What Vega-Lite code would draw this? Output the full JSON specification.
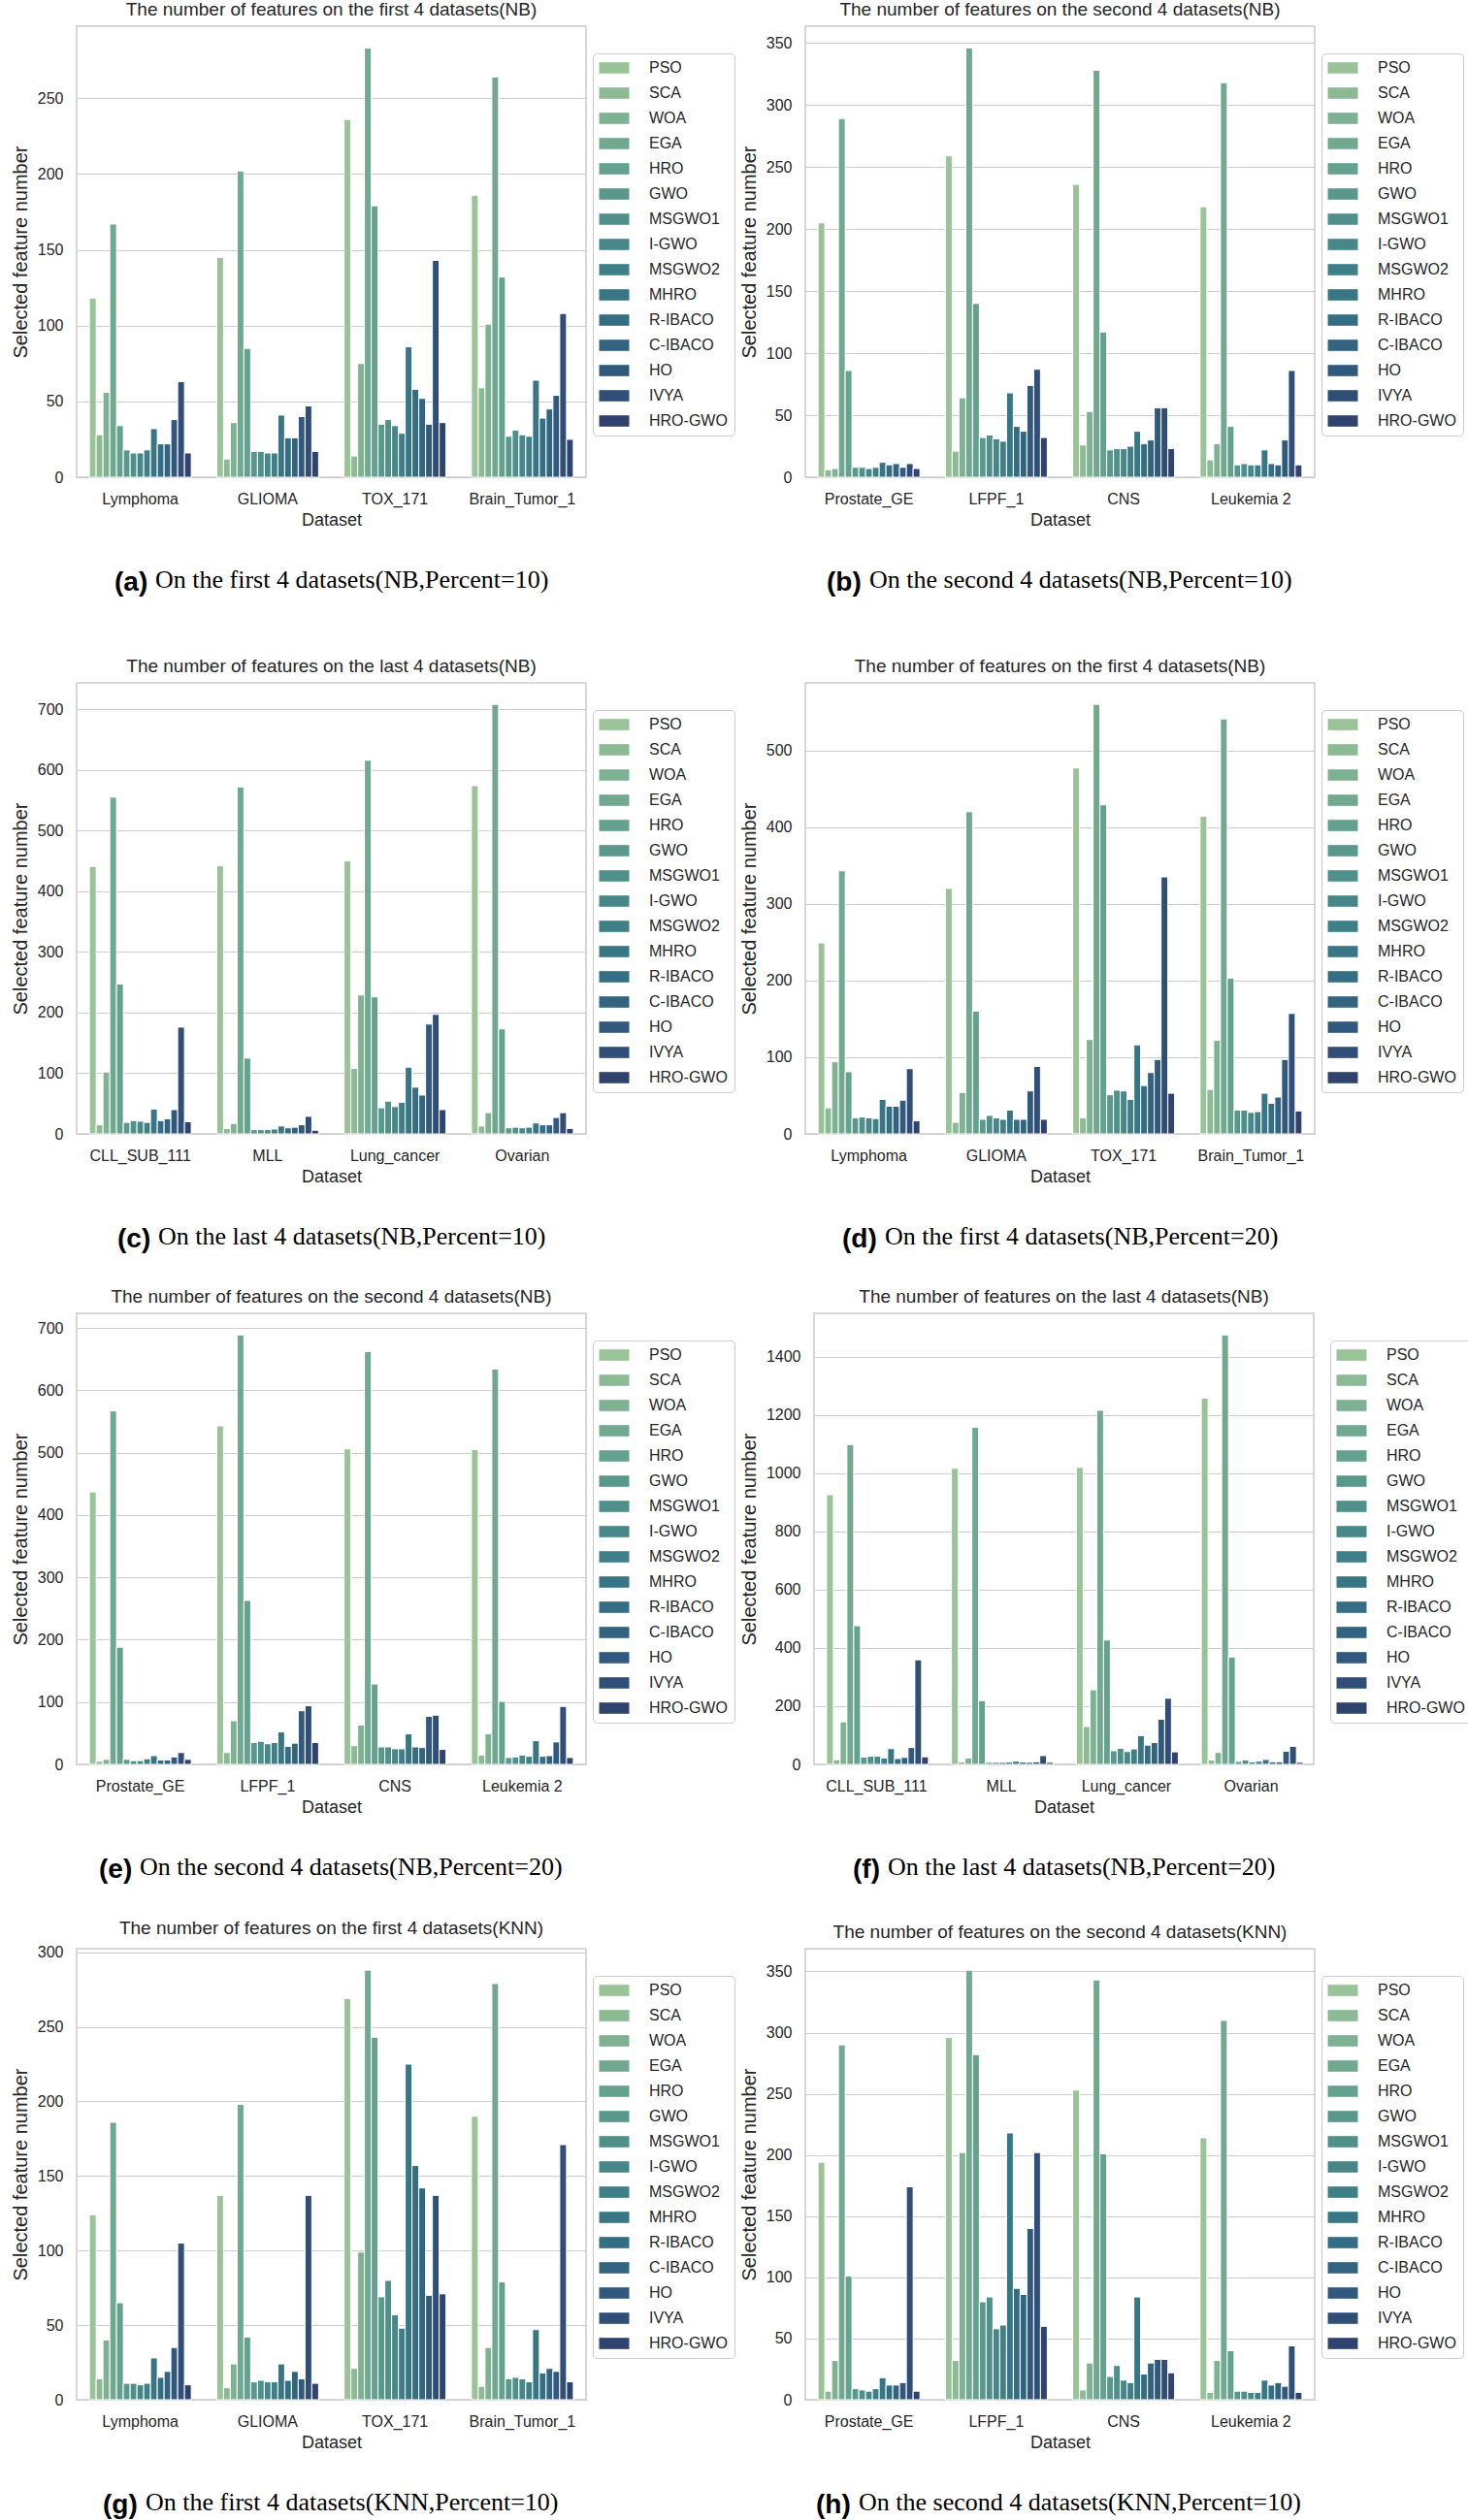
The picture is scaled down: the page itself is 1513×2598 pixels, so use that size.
{
"$schema":"https://vega.github.io/schema/vega-lite/v6.json",
"background":"white",
"padding":{"left":10,"top":0,"right":5,"bottom":0},
"spacing":62,
"resolve":{"scale":{"color":"independent"},"legend":{"color":"independent"}},
"vconcat":[
{"hconcat":[
{"resolve":{"scale":{"color":"independent"},"legend":{"color":"independent"}},"title":{"text":"On the first 4 datasets(NB,Percent=10)","orient":"bottom","anchor":"start","frame":"group","font":"Liberation Serif","fontSize":26,"fontWeight":"normal","color":"black","offset":0,"dx":81,"dy":-30},
"vconcat":[{"resolve":{"scale":{"color":"independent"},"legend":{"color":"independent"}},"title":{"text":"(a)","orient":"bottom","anchor":"start","frame":"group","font":"Liberation Sans","fontSize":28,"fontWeight":"bold","color":"black","offset":41,"dx":39},
"vconcat":[{"data":{"name":"a"},"width":525,"height":465,"title":"The number of features on the first 4 datasets(NB)","mark":{"type":"bar","stroke":"white","strokeWidth":1},
"encoding":{"x":{"field":"dataset","type":"nominal","sort":["Lymphoma","GLIOMA","TOX_171","Brain_Tumor_1"],"scale":{"paddingInner":0.2,"paddingOuter":0.1},"title":"Dataset"},
"xOffset":{"field":"alg","type":"nominal","sort":["PSO","SCA","WOA","EGA","HRO","GWO","MSGWO1","I-GWO","MSGWO2","MHRO","R-IBACO","C-IBACO","HO","IVYA","HRO-GWO"],"scale":{"paddingInner":0,"paddingOuter":0}},
"y":{"field":"n","type":"quantitative","scale":{"domain":[0,297.5],"nice":false},"axis":{"values":[0,50,100,150,200,250]},"title":"Selected feature number"},
"color":{"field":"alg","type":"nominal","scale":{"domain":["PSO","SCA","WOA","EGA","HRO","GWO","MSGWO1","I-GWO","MSGWO2","MHRO","R-IBACO","C-IBACO","HO","IVYA","HRO-GWO"],"range":["#9ac398","#8bba94","#7eb292","#70a990","#64a18e","#5a988c","#50908a","#478789","#3f7f87","#387685","#346d84","#326381","#31597d","#314e77","#30436e"]}}}}]}]},
{"resolve":{"scale":{"color":"independent"},"legend":{"color":"independent"}},"title":{"text":"On the second 4 datasets(NB,Percent=10)","orient":"bottom","anchor":"start","frame":"group","font":"Liberation Serif","fontSize":26,"fontWeight":"normal","color":"black","offset":0,"dx":66,"dy":-30},
"vconcat":[{"resolve":{"scale":{"color":"independent"},"legend":{"color":"independent"}},"title":{"text":"(b)","orient":"bottom","anchor":"start","frame":"group","font":"Liberation Sans","fontSize":28,"fontWeight":"bold","color":"black","offset":41,"dx":22},
"vconcat":[{"data":{"name":"b"},"width":525,"height":465,"title":"The number of features on the second 4 datasets(NB)","mark":{"type":"bar","stroke":"white","strokeWidth":1},
"encoding":{"x":{"field":"dataset","type":"nominal","sort":["Prostate_GE","LFPF_1","CNS","Leukemia 2"],"scale":{"paddingInner":0.2,"paddingOuter":0.1},"title":"Dataset"},
"xOffset":{"field":"alg","type":"nominal","sort":["PSO","SCA","WOA","EGA","HRO","GWO","MSGWO1","I-GWO","MSGWO2","MHRO","R-IBACO","C-IBACO","HO","IVYA","HRO-GWO"],"scale":{"paddingInner":0,"paddingOuter":0}},
"y":{"field":"n","type":"quantitative","scale":{"domain":[0,363.5],"nice":false},"axis":{"values":[0,50,100,150,200,250,300,350]},"title":"Selected feature number"},
"color":{"field":"alg","type":"nominal","scale":{"domain":["PSO","SCA","WOA","EGA","HRO","GWO","MSGWO1","I-GWO","MSGWO2","MHRO","R-IBACO","C-IBACO","HO","IVYA","HRO-GWO"],"range":["#9ac398","#8bba94","#7eb292","#70a990","#64a18e","#5a988c","#50908a","#478789","#3f7f87","#387685","#346d84","#326381","#31597d","#314e77","#30436e"]}}}}]}]}
],"spacing":2,"resolve":{"scale":{"color":"independent"},"legend":{"color":"independent"}}},
{"spacing":35,"resolve":{"scale":{"color":"independent"},"legend":{"color":"independent"}},"vconcat":[
{"hconcat":[
{"resolve":{"scale":{"color":"independent"},"legend":{"color":"independent"}},"title":{"text":"On the last 4 datasets(NB,Percent=10)","orient":"bottom","anchor":"start","frame":"group","font":"Liberation Serif","fontSize":26,"fontWeight":"normal","color":"black","offset":0,"dx":84,"dy":-30},
"vconcat":[{"resolve":{"scale":{"color":"independent"},"legend":{"color":"independent"}},"title":{"text":"(c)","orient":"bottom","anchor":"start","frame":"group","font":"Liberation Sans","fontSize":28,"fontWeight":"bold","color":"black","offset":41,"dx":42},
"vconcat":[{"data":{"name":"c"},"width":525,"height":465,"title":"The number of features on the last 4 datasets(NB)","mark":{"type":"bar","stroke":"white","strokeWidth":1},
"encoding":{"x":{"field":"dataset","type":"nominal","sort":["CLL_SUB_111","MLL","Lung_cancer","Ovarian"],"scale":{"paddingInner":0.2,"paddingOuter":0.1},"title":"Dataset"},
"xOffset":{"field":"alg","type":"nominal","sort":["PSO","SCA","WOA","EGA","HRO","GWO","MSGWO1","I-GWO","MSGWO2","MHRO","R-IBACO","C-IBACO","HO","IVYA","HRO-GWO"],"scale":{"paddingInner":0,"paddingOuter":0}},
"y":{"field":"n","type":"quantitative","scale":{"domain":[0,743.5],"nice":false},"axis":{"values":[0,100,200,300,400,500,600,700]},"title":"Selected feature number"},
"color":{"field":"alg","type":"nominal","scale":{"domain":["PSO","SCA","WOA","EGA","HRO","GWO","MSGWO1","I-GWO","MSGWO2","MHRO","R-IBACO","C-IBACO","HO","IVYA","HRO-GWO"],"range":["#9ac398","#8bba94","#7eb292","#70a990","#64a18e","#5a988c","#50908a","#478789","#3f7f87","#387685","#346d84","#326381","#31597d","#314e77","#30436e"]}}}}]}]},
{"resolve":{"scale":{"color":"independent"},"legend":{"color":"independent"}},"title":{"text":"On the first 4 datasets(NB,Percent=20)","orient":"bottom","anchor":"start","frame":"group","font":"Liberation Serif","fontSize":26,"fontWeight":"normal","color":"black","offset":0,"dx":82,"dy":-30},
"vconcat":[{"resolve":{"scale":{"color":"independent"},"legend":{"color":"independent"}},"title":{"text":"(d)","orient":"bottom","anchor":"start","frame":"group","font":"Liberation Sans","fontSize":28,"fontWeight":"bold","color":"black","offset":41,"dx":38},
"vconcat":[{"data":{"name":"d"},"width":525,"height":465,"title":"The number of features on the first 4 datasets(NB)","mark":{"type":"bar","stroke":"white","strokeWidth":1},
"encoding":{"x":{"field":"dataset","type":"nominal","sort":["Lymphoma","GLIOMA","TOX_171","Brain_Tumor_1"],"scale":{"paddingInner":0.2,"paddingOuter":0.1},"title":"Dataset"},
"xOffset":{"field":"alg","type":"nominal","sort":["PSO","SCA","WOA","EGA","HRO","GWO","MSGWO1","I-GWO","MSGWO2","MHRO","R-IBACO","C-IBACO","HO","IVYA","HRO-GWO"],"scale":{"paddingInner":0,"paddingOuter":0}},
"y":{"field":"n","type":"quantitative","scale":{"domain":[0,588],"nice":false},"axis":{"values":[0,100,200,300,400,500]},"title":"Selected feature number"},
"color":{"field":"alg","type":"nominal","scale":{"domain":["PSO","SCA","WOA","EGA","HRO","GWO","MSGWO1","I-GWO","MSGWO2","MHRO","R-IBACO","C-IBACO","HO","IVYA","HRO-GWO"],"range":["#9ac398","#8bba94","#7eb292","#70a990","#64a18e","#5a988c","#50908a","#478789","#3f7f87","#387685","#346d84","#326381","#31597d","#314e77","#30436e"]}}}}]}]}
],"spacing":2,"resolve":{"scale":{"color":"independent"},"legend":{"color":"independent"}}},
{"hconcat":[
{"resolve":{"scale":{"color":"independent"},"legend":{"color":"independent"}},"title":{"text":"On the second 4 datasets(NB,Percent=20)","orient":"bottom","anchor":"start","frame":"group","font":"Liberation Serif","fontSize":26,"fontWeight":"normal","color":"black","offset":0,"dx":65,"dy":-30},
"vconcat":[{"resolve":{"scale":{"color":"independent"},"legend":{"color":"independent"}},"title":{"text":"(e)","orient":"bottom","anchor":"start","frame":"group","font":"Liberation Sans","fontSize":28,"fontWeight":"bold","color":"black","offset":41,"dx":23},
"vconcat":[{"data":{"name":"e"},"width":525,"height":465,"title":"The number of features on the second 4 datasets(NB)","mark":{"type":"bar","stroke":"white","strokeWidth":1},
"encoding":{"x":{"field":"dataset","type":"nominal","sort":["Prostate_GE","LFPF_1","CNS","Leukemia 2"],"scale":{"paddingInner":0.2,"paddingOuter":0.1},"title":"Dataset"},
"xOffset":{"field":"alg","type":"nominal","sort":["PSO","SCA","WOA","EGA","HRO","GWO","MSGWO1","I-GWO","MSGWO2","MHRO","R-IBACO","C-IBACO","HO","IVYA","HRO-GWO"],"scale":{"paddingInner":0,"paddingOuter":0}},
"y":{"field":"n","type":"quantitative","scale":{"domain":[0,723.5],"nice":false},"axis":{"values":[0,100,200,300,400,500,600,700]},"title":"Selected feature number"},
"color":{"field":"alg","type":"nominal","scale":{"domain":["PSO","SCA","WOA","EGA","HRO","GWO","MSGWO1","I-GWO","MSGWO2","MHRO","R-IBACO","C-IBACO","HO","IVYA","HRO-GWO"],"range":["#9ac398","#8bba94","#7eb292","#70a990","#64a18e","#5a988c","#50908a","#478789","#3f7f87","#387685","#346d84","#326381","#31597d","#314e77","#30436e"]}}}}]}]},
{"resolve":{"scale":{"color":"independent"},"legend":{"color":"independent"}},"title":{"text":"On the last 4 datasets(NB,Percent=20)","orient":"bottom","anchor":"start","frame":"group","font":"Liberation Serif","fontSize":26,"fontWeight":"normal","color":"black","offset":0,"dx":76,"dy":-30},
"vconcat":[{"resolve":{"scale":{"color":"independent"},"legend":{"color":"independent"}},"title":{"text":"(f)","orient":"bottom","anchor":"start","frame":"group","font":"Liberation Sans","fontSize":28,"fontWeight":"bold","color":"black","offset":41,"dx":40},
"vconcat":[{"data":{"name":"f"},"width":515,"height":465,"title":"The number of features on the last 4 datasets(NB)","mark":{"type":"bar","stroke":"white","strokeWidth":1},
"encoding":{"x":{"field":"dataset","type":"nominal","sort":["CLL_SUB_111","MLL","Lung_cancer","Ovarian"],"scale":{"paddingInner":0.2,"paddingOuter":0.1},"title":"Dataset"},
"xOffset":{"field":"alg","type":"nominal","sort":["PSO","SCA","WOA","EGA","HRO","GWO","MSGWO1","I-GWO","MSGWO2","MHRO","R-IBACO","C-IBACO","HO","IVYA","HRO-GWO"],"scale":{"paddingInner":0,"paddingOuter":0}},
"y":{"field":"n","type":"quantitative","scale":{"domain":[0,1549],"nice":false},"axis":{"values":[0,200,400,600,800,1000,1200,1400]},"title":"Selected feature number"},
"color":{"field":"alg","type":"nominal","scale":{"domain":["PSO","SCA","WOA","EGA","HRO","GWO","MSGWO1","I-GWO","MSGWO2","MHRO","R-IBACO","C-IBACO","HO","IVYA","HRO-GWO"],"range":["#9ac398","#8bba94","#7eb292","#70a990","#64a18e","#5a988c","#50908a","#478789","#3f7f87","#387685","#346d84","#326381","#31597d","#314e77","#30436e"]}},"legend":{"legendX":522}}}]}]}
],"spacing":2,"resolve":{"scale":{"color":"independent"},"legend":{"color":"independent"}}},
{"hconcat":[
{"resolve":{"scale":{"color":"independent"},"legend":{"color":"independent"}},"title":{"text":"On the first 4 datasets(KNN,Percent=10)","orient":"bottom","anchor":"start","frame":"group","font":"Liberation Serif","fontSize":26,"fontWeight":"normal","color":"black","offset":0,"dx":71,"dy":-30},
"vconcat":[{"resolve":{"scale":{"color":"independent"},"legend":{"color":"independent"}},"title":{"text":"(g)","orient":"bottom","anchor":"start","frame":"group","font":"Liberation Sans","fontSize":28,"fontWeight":"bold","color":"black","offset":41,"dx":27},
"vconcat":[{"data":{"name":"g"},"width":525,"height":465,"title":"The number of features on the first 4 datasets(KNN)","mark":{"type":"bar","stroke":"white","strokeWidth":1},
"encoding":{"x":{"field":"dataset","type":"nominal","sort":["Lymphoma","GLIOMA","TOX_171","Brain_Tumor_1"],"scale":{"paddingInner":0.2,"paddingOuter":0.1},"title":"Dataset"},
"xOffset":{"field":"alg","type":"nominal","sort":["PSO","SCA","WOA","EGA","HRO","GWO","MSGWO1","I-GWO","MSGWO2","MHRO","R-IBACO","C-IBACO","HO","IVYA","HRO-GWO"],"scale":{"paddingInner":0,"paddingOuter":0}},
"y":{"field":"n","type":"quantitative","scale":{"domain":[0,302.4],"nice":false},"axis":{"values":[0,50,100,150,200,250,300]},"title":"Selected feature number"},
"color":{"field":"alg","type":"nominal","scale":{"domain":["PSO","SCA","WOA","EGA","HRO","GWO","MSGWO1","I-GWO","MSGWO2","MHRO","R-IBACO","C-IBACO","HO","IVYA","HRO-GWO"],"range":["#9ac398","#8bba94","#7eb292","#70a990","#64a18e","#5a988c","#50908a","#478789","#3f7f87","#387685","#346d84","#326381","#31597d","#314e77","#30436e"]}}}}]}]},
{"resolve":{"scale":{"color":"independent"},"legend":{"color":"independent"}},"title":{"text":"On the second 4 datasets(KNN,Percent=10)","orient":"bottom","anchor":"start","frame":"group","font":"Liberation Serif","fontSize":26,"fontWeight":"normal","color":"black","offset":0,"dx":55,"dy":-30},
"vconcat":[{"resolve":{"scale":{"color":"independent"},"legend":{"color":"independent"}},"title":{"text":"(h)","orient":"bottom","anchor":"start","frame":"group","font":"Liberation Sans","fontSize":28,"fontWeight":"bold","color":"black","offset":41,"dx":11},
"vconcat":[{"data":{"name":"h"},"width":525,"height":465,"title":"The number of features on the second 4 datasets(KNN)","mark":{"type":"bar","stroke":"white","strokeWidth":1},
"encoding":{"x":{"field":"dataset","type":"nominal","sort":["Prostate_GE","LFPF_1","CNS","Leukemia 2"],"scale":{"paddingInner":0.2,"paddingOuter":0.1},"title":"Dataset"},
"xOffset":{"field":"alg","type":"nominal","sort":["PSO","SCA","WOA","EGA","HRO","GWO","MSGWO1","I-GWO","MSGWO2","MHRO","R-IBACO","C-IBACO","HO","IVYA","HRO-GWO"],"scale":{"paddingInner":0,"paddingOuter":0}},
"y":{"field":"n","type":"quantitative","scale":{"domain":[0,368.6],"nice":false},"axis":{"values":[0,50,100,150,200,250,300,350]},"title":"Selected feature number"},
"color":{"field":"alg","type":"nominal","scale":{"domain":["PSO","SCA","WOA","EGA","HRO","GWO","MSGWO1","I-GWO","MSGWO2","MHRO","R-IBACO","C-IBACO","HO","IVYA","HRO-GWO"],"range":["#9ac398","#8bba94","#7eb292","#70a990","#64a18e","#5a988c","#50908a","#478789","#3f7f87","#387685","#346d84","#326381","#31597d","#314e77","#30436e"]}}}}]}]}
],"spacing":2,"resolve":{"scale":{"color":"independent"},"legend":{"color":"independent"}}}
]}
],
"config":{
"view":{"stroke":"#cccccc","strokeWidth":1.5},
"axis":{"labelFont":"Liberation Sans","labelFontSize":16,"labelColor":"#262626","titleFont":"Liberation Sans","titleFontSize":20,"titleFontWeight":"normal","titleColor":"#262626","domain":false,"ticks":false,"gridColor":"#cccccc","gridWidth":1.2},
"axisX":{"grid":false,"labelAngle":0,"labelPadding":14,"titlePadding":5,"titleFontSize":18},
"axisY":{"labelPadding":14,"titlePadding":7,"format":"d"},
"title":{"font":"Liberation Sans","fontSize":19,"fontWeight":"normal","color":"#262626","offset":7,"frame":"group"},
"legend":{"orient":"none","legendX":532,"legendY":28,"title":null,"symbolType":"M-2,-0.75H2V0.75H-2Z","symbolSize":240,"symbolOffset":7,"labelOffset":28,"rowPadding":10,"padding":7,"strokeColor":"#cccccc","cornerRadius":4,"fillColor":"white","labelFont":"Liberation Sans","labelFontSize":16,"labelColor":"#262626","symbolStrokeWidth":0}
},
"datasets":{
"a":[
{"dataset":"Lymphoma","alg":"PSO","n":118},{"dataset":"Lymphoma","alg":"SCA","n":28},{"dataset":"Lymphoma","alg":"WOA","n":56},{"dataset":"Lymphoma","alg":"EGA","n":167},{"dataset":"Lymphoma","alg":"HRO","n":34},{"dataset":"Lymphoma","alg":"GWO","n":18},{"dataset":"Lymphoma","alg":"MSGWO1","n":16},{"dataset":"Lymphoma","alg":"I-GWO","n":16},{"dataset":"Lymphoma","alg":"MSGWO2","n":18},{"dataset":"Lymphoma","alg":"MHRO","n":32},{"dataset":"Lymphoma","alg":"R-IBACO","n":22},{"dataset":"Lymphoma","alg":"C-IBACO","n":22},{"dataset":"Lymphoma","alg":"HO","n":38},{"dataset":"Lymphoma","alg":"IVYA","n":63},{"dataset":"Lymphoma","alg":"HRO-GWO","n":16},
{"dataset":"GLIOMA","alg":"PSO","n":145},{"dataset":"GLIOMA","alg":"SCA","n":12},{"dataset":"GLIOMA","alg":"WOA","n":36},{"dataset":"GLIOMA","alg":"EGA","n":202},{"dataset":"GLIOMA","alg":"HRO","n":85},{"dataset":"GLIOMA","alg":"GWO","n":17},{"dataset":"GLIOMA","alg":"MSGWO1","n":17},{"dataset":"GLIOMA","alg":"I-GWO","n":16},{"dataset":"GLIOMA","alg":"MSGWO2","n":16},{"dataset":"GLIOMA","alg":"MHRO","n":41},{"dataset":"GLIOMA","alg":"R-IBACO","n":26},{"dataset":"GLIOMA","alg":"C-IBACO","n":26},{"dataset":"GLIOMA","alg":"HO","n":40},{"dataset":"GLIOMA","alg":"IVYA","n":47},{"dataset":"GLIOMA","alg":"HRO-GWO","n":17},
{"dataset":"TOX_171","alg":"PSO","n":236},{"dataset":"TOX_171","alg":"SCA","n":14},{"dataset":"TOX_171","alg":"WOA","n":75},{"dataset":"TOX_171","alg":"EGA","n":283},{"dataset":"TOX_171","alg":"HRO","n":179},{"dataset":"TOX_171","alg":"GWO","n":35},{"dataset":"TOX_171","alg":"MSGWO1","n":38},{"dataset":"TOX_171","alg":"I-GWO","n":34},{"dataset":"TOX_171","alg":"MSGWO2","n":29},{"dataset":"TOX_171","alg":"MHRO","n":86},{"dataset":"TOX_171","alg":"R-IBACO","n":58},{"dataset":"TOX_171","alg":"C-IBACO","n":52},{"dataset":"TOX_171","alg":"HO","n":35},{"dataset":"TOX_171","alg":"IVYA","n":143},{"dataset":"TOX_171","alg":"HRO-GWO","n":36},
{"dataset":"Brain_Tumor_1","alg":"PSO","n":186},{"dataset":"Brain_Tumor_1","alg":"SCA","n":59},{"dataset":"Brain_Tumor_1","alg":"WOA","n":101},{"dataset":"Brain_Tumor_1","alg":"EGA","n":264},{"dataset":"Brain_Tumor_1","alg":"HRO","n":132},{"dataset":"Brain_Tumor_1","alg":"GWO","n":27},{"dataset":"Brain_Tumor_1","alg":"MSGWO1","n":31},{"dataset":"Brain_Tumor_1","alg":"I-GWO","n":28},{"dataset":"Brain_Tumor_1","alg":"MSGWO2","n":27},{"dataset":"Brain_Tumor_1","alg":"MHRO","n":64},{"dataset":"Brain_Tumor_1","alg":"R-IBACO","n":39},{"dataset":"Brain_Tumor_1","alg":"C-IBACO","n":45},{"dataset":"Brain_Tumor_1","alg":"HO","n":54},{"dataset":"Brain_Tumor_1","alg":"IVYA","n":108},{"dataset":"Brain_Tumor_1","alg":"HRO-GWO","n":25}],
"b":[
{"dataset":"Prostate_GE","alg":"PSO","n":205},{"dataset":"Prostate_GE","alg":"SCA","n":6},{"dataset":"Prostate_GE","alg":"WOA","n":7},{"dataset":"Prostate_GE","alg":"EGA","n":289},{"dataset":"Prostate_GE","alg":"HRO","n":86},{"dataset":"Prostate_GE","alg":"GWO","n":8},{"dataset":"Prostate_GE","alg":"MSGWO1","n":8},{"dataset":"Prostate_GE","alg":"I-GWO","n":7},{"dataset":"Prostate_GE","alg":"MSGWO2","n":8},{"dataset":"Prostate_GE","alg":"MHRO","n":12},{"dataset":"Prostate_GE","alg":"R-IBACO","n":10},{"dataset":"Prostate_GE","alg":"C-IBACO","n":11},{"dataset":"Prostate_GE","alg":"HO","n":8},{"dataset":"Prostate_GE","alg":"IVYA","n":11},{"dataset":"Prostate_GE","alg":"HRO-GWO","n":7},
{"dataset":"LFPF_1","alg":"PSO","n":259},{"dataset":"LFPF_1","alg":"SCA","n":21},{"dataset":"LFPF_1","alg":"WOA","n":64},{"dataset":"LFPF_1","alg":"EGA","n":346},{"dataset":"LFPF_1","alg":"HRO","n":140},{"dataset":"LFPF_1","alg":"GWO","n":32},{"dataset":"LFPF_1","alg":"MSGWO1","n":34},{"dataset":"LFPF_1","alg":"I-GWO","n":31},{"dataset":"LFPF_1","alg":"MSGWO2","n":29},{"dataset":"LFPF_1","alg":"MHRO","n":68},{"dataset":"LFPF_1","alg":"R-IBACO","n":41},{"dataset":"LFPF_1","alg":"C-IBACO","n":37},{"dataset":"LFPF_1","alg":"HO","n":74},{"dataset":"LFPF_1","alg":"IVYA","n":87},{"dataset":"LFPF_1","alg":"HRO-GWO","n":32},
{"dataset":"CNS","alg":"PSO","n":236},{"dataset":"CNS","alg":"SCA","n":26},{"dataset":"CNS","alg":"WOA","n":53},{"dataset":"CNS","alg":"EGA","n":328},{"dataset":"CNS","alg":"HRO","n":117},{"dataset":"CNS","alg":"GWO","n":22},{"dataset":"CNS","alg":"MSGWO1","n":23},{"dataset":"CNS","alg":"I-GWO","n":23},{"dataset":"CNS","alg":"MSGWO2","n":25},{"dataset":"CNS","alg":"MHRO","n":37},{"dataset":"CNS","alg":"R-IBACO","n":27},{"dataset":"CNS","alg":"C-IBACO","n":30},{"dataset":"CNS","alg":"HO","n":56},{"dataset":"CNS","alg":"IVYA","n":56},{"dataset":"CNS","alg":"HRO-GWO","n":23},
{"dataset":"Leukemia 2","alg":"PSO","n":218},{"dataset":"Leukemia 2","alg":"SCA","n":14},{"dataset":"Leukemia 2","alg":"WOA","n":27},{"dataset":"Leukemia 2","alg":"EGA","n":318},{"dataset":"Leukemia 2","alg":"HRO","n":41},{"dataset":"Leukemia 2","alg":"GWO","n":10},{"dataset":"Leukemia 2","alg":"MSGWO1","n":11},{"dataset":"Leukemia 2","alg":"I-GWO","n":10},{"dataset":"Leukemia 2","alg":"MSGWO2","n":10},{"dataset":"Leukemia 2","alg":"MHRO","n":22},{"dataset":"Leukemia 2","alg":"R-IBACO","n":11},{"dataset":"Leukemia 2","alg":"C-IBACO","n":10},{"dataset":"Leukemia 2","alg":"HO","n":30},{"dataset":"Leukemia 2","alg":"IVYA","n":86},{"dataset":"Leukemia 2","alg":"HRO-GWO","n":10}],
"c":[
{"dataset":"CLL_SUB_111","alg":"PSO","n":441},{"dataset":"CLL_SUB_111","alg":"SCA","n":15},{"dataset":"CLL_SUB_111","alg":"WOA","n":102},{"dataset":"CLL_SUB_111","alg":"EGA","n":555},{"dataset":"CLL_SUB_111","alg":"HRO","n":247},{"dataset":"CLL_SUB_111","alg":"GWO","n":19},{"dataset":"CLL_SUB_111","alg":"MSGWO1","n":22},{"dataset":"CLL_SUB_111","alg":"I-GWO","n":21},{"dataset":"CLL_SUB_111","alg":"MSGWO2","n":19},{"dataset":"CLL_SUB_111","alg":"MHRO","n":41},{"dataset":"CLL_SUB_111","alg":"R-IBACO","n":22},{"dataset":"CLL_SUB_111","alg":"C-IBACO","n":25},{"dataset":"CLL_SUB_111","alg":"HO","n":40},{"dataset":"CLL_SUB_111","alg":"IVYA","n":176},{"dataset":"CLL_SUB_111","alg":"HRO-GWO","n":20},
{"dataset":"MLL","alg":"PSO","n":442},{"dataset":"MLL","alg":"SCA","n":9},{"dataset":"MLL","alg":"WOA","n":17},{"dataset":"MLL","alg":"EGA","n":572},{"dataset":"MLL","alg":"HRO","n":125},{"dataset":"MLL","alg":"GWO","n":7},{"dataset":"MLL","alg":"MSGWO1","n":7},{"dataset":"MLL","alg":"I-GWO","n":7},{"dataset":"MLL","alg":"MSGWO2","n":8},{"dataset":"MLL","alg":"MHRO","n":13},{"dataset":"MLL","alg":"R-IBACO","n":10},{"dataset":"MLL","alg":"C-IBACO","n":11},{"dataset":"MLL","alg":"HO","n":15},{"dataset":"MLL","alg":"IVYA","n":29},{"dataset":"MLL","alg":"HRO-GWO","n":6},
{"dataset":"Lung_cancer","alg":"PSO","n":450},{"dataset":"Lung_cancer","alg":"SCA","n":108},{"dataset":"Lung_cancer","alg":"WOA","n":229},{"dataset":"Lung_cancer","alg":"EGA","n":616},{"dataset":"Lung_cancer","alg":"HRO","n":226},{"dataset":"Lung_cancer","alg":"GWO","n":43},{"dataset":"Lung_cancer","alg":"MSGWO1","n":54},{"dataset":"Lung_cancer","alg":"I-GWO","n":45},{"dataset":"Lung_cancer","alg":"MSGWO2","n":52},{"dataset":"Lung_cancer","alg":"MHRO","n":110},{"dataset":"Lung_cancer","alg":"R-IBACO","n":77},{"dataset":"Lung_cancer","alg":"C-IBACO","n":64},{"dataset":"Lung_cancer","alg":"HO","n":181},{"dataset":"Lung_cancer","alg":"IVYA","n":197},{"dataset":"Lung_cancer","alg":"HRO-GWO","n":40},
{"dataset":"Ovarian","alg":"PSO","n":574},{"dataset":"Ovarian","alg":"SCA","n":13},{"dataset":"Ovarian","alg":"WOA","n":35},{"dataset":"Ovarian","alg":"EGA","n":708},{"dataset":"Ovarian","alg":"HRO","n":173},{"dataset":"Ovarian","alg":"GWO","n":10},{"dataset":"Ovarian","alg":"MSGWO1","n":11},{"dataset":"Ovarian","alg":"I-GWO","n":10},{"dataset":"Ovarian","alg":"MSGWO2","n":11},{"dataset":"Ovarian","alg":"MHRO","n":18},{"dataset":"Ovarian","alg":"R-IBACO","n":15},{"dataset":"Ovarian","alg":"C-IBACO","n":15},{"dataset":"Ovarian","alg":"HO","n":27},{"dataset":"Ovarian","alg":"IVYA","n":35},{"dataset":"Ovarian","alg":"HRO-GWO","n":9}],
"d":[
{"dataset":"Lymphoma","alg":"PSO","n":249},{"dataset":"Lymphoma","alg":"SCA","n":34},{"dataset":"Lymphoma","alg":"WOA","n":94},{"dataset":"Lymphoma","alg":"EGA","n":343},{"dataset":"Lymphoma","alg":"HRO","n":81},{"dataset":"Lymphoma","alg":"GWO","n":21},{"dataset":"Lymphoma","alg":"MSGWO1","n":22},{"dataset":"Lymphoma","alg":"I-GWO","n":21},{"dataset":"Lymphoma","alg":"MSGWO2","n":20},{"dataset":"Lymphoma","alg":"MHRO","n":45},{"dataset":"Lymphoma","alg":"R-IBACO","n":36},{"dataset":"Lymphoma","alg":"C-IBACO","n":36},{"dataset":"Lymphoma","alg":"HO","n":44},{"dataset":"Lymphoma","alg":"IVYA","n":85},{"dataset":"Lymphoma","alg":"HRO-GWO","n":17},
{"dataset":"GLIOMA","alg":"PSO","n":320},{"dataset":"GLIOMA","alg":"SCA","n":15},{"dataset":"GLIOMA","alg":"WOA","n":54},{"dataset":"GLIOMA","alg":"EGA","n":420},{"dataset":"GLIOMA","alg":"HRO","n":160},{"dataset":"GLIOMA","alg":"GWO","n":19},{"dataset":"GLIOMA","alg":"MSGWO1","n":24},{"dataset":"GLIOMA","alg":"I-GWO","n":21},{"dataset":"GLIOMA","alg":"MSGWO2","n":19},{"dataset":"GLIOMA","alg":"MHRO","n":31},{"dataset":"GLIOMA","alg":"R-IBACO","n":19},{"dataset":"GLIOMA","alg":"C-IBACO","n":19},{"dataset":"GLIOMA","alg":"HO","n":56},{"dataset":"GLIOMA","alg":"IVYA","n":88},{"dataset":"GLIOMA","alg":"HRO-GWO","n":19},
{"dataset":"TOX_171","alg":"PSO","n":477},{"dataset":"TOX_171","alg":"SCA","n":21},{"dataset":"TOX_171","alg":"WOA","n":123},{"dataset":"TOX_171","alg":"EGA","n":560},{"dataset":"TOX_171","alg":"HRO","n":429},{"dataset":"TOX_171","alg":"GWO","n":51},{"dataset":"TOX_171","alg":"MSGWO1","n":57},{"dataset":"TOX_171","alg":"I-GWO","n":56},{"dataset":"TOX_171","alg":"MSGWO2","n":45},{"dataset":"TOX_171","alg":"MHRO","n":116},{"dataset":"TOX_171","alg":"R-IBACO","n":63},{"dataset":"TOX_171","alg":"C-IBACO","n":80},{"dataset":"TOX_171","alg":"HO","n":97},{"dataset":"TOX_171","alg":"IVYA","n":335},{"dataset":"TOX_171","alg":"HRO-GWO","n":53},
{"dataset":"Brain_Tumor_1","alg":"PSO","n":414},{"dataset":"Brain_Tumor_1","alg":"SCA","n":58},{"dataset":"Brain_Tumor_1","alg":"WOA","n":122},{"dataset":"Brain_Tumor_1","alg":"EGA","n":541},{"dataset":"Brain_Tumor_1","alg":"HRO","n":203},{"dataset":"Brain_Tumor_1","alg":"GWO","n":31},{"dataset":"Brain_Tumor_1","alg":"MSGWO1","n":31},{"dataset":"Brain_Tumor_1","alg":"I-GWO","n":28},{"dataset":"Brain_Tumor_1","alg":"MSGWO2","n":29},{"dataset":"Brain_Tumor_1","alg":"MHRO","n":53},{"dataset":"Brain_Tumor_1","alg":"R-IBACO","n":40},{"dataset":"Brain_Tumor_1","alg":"C-IBACO","n":48},{"dataset":"Brain_Tumor_1","alg":"HO","n":97},{"dataset":"Brain_Tumor_1","alg":"IVYA","n":157},{"dataset":"Brain_Tumor_1","alg":"HRO-GWO","n":30}],
"e":[
{"dataset":"Prostate_GE","alg":"PSO","n":437},{"dataset":"Prostate_GE","alg":"SCA","n":5},{"dataset":"Prostate_GE","alg":"WOA","n":8},{"dataset":"Prostate_GE","alg":"EGA","n":567},{"dataset":"Prostate_GE","alg":"HRO","n":188},{"dataset":"Prostate_GE","alg":"GWO","n":8},{"dataset":"Prostate_GE","alg":"MSGWO1","n":6},{"dataset":"Prostate_GE","alg":"I-GWO","n":6},{"dataset":"Prostate_GE","alg":"MSGWO2","n":9},{"dataset":"Prostate_GE","alg":"MHRO","n":14},{"dataset":"Prostate_GE","alg":"R-IBACO","n":7},{"dataset":"Prostate_GE","alg":"C-IBACO","n":7},{"dataset":"Prostate_GE","alg":"HO","n":12},{"dataset":"Prostate_GE","alg":"IVYA","n":19},{"dataset":"Prostate_GE","alg":"HRO-GWO","n":8},
{"dataset":"LFPF_1","alg":"PSO","n":543},{"dataset":"LFPF_1","alg":"SCA","n":19},{"dataset":"LFPF_1","alg":"WOA","n":70},{"dataset":"LFPF_1","alg":"EGA","n":689},{"dataset":"LFPF_1","alg":"HRO","n":263},{"dataset":"LFPF_1","alg":"GWO","n":35},{"dataset":"LFPF_1","alg":"MSGWO1","n":37},{"dataset":"LFPF_1","alg":"I-GWO","n":33},{"dataset":"LFPF_1","alg":"MSGWO2","n":35},{"dataset":"LFPF_1","alg":"MHRO","n":52},{"dataset":"LFPF_1","alg":"R-IBACO","n":29},{"dataset":"LFPF_1","alg":"C-IBACO","n":34},{"dataset":"LFPF_1","alg":"HO","n":86},{"dataset":"LFPF_1","alg":"IVYA","n":94},{"dataset":"LFPF_1","alg":"HRO-GWO","n":35},
{"dataset":"CNS","alg":"PSO","n":506},{"dataset":"CNS","alg":"SCA","n":30},{"dataset":"CNS","alg":"WOA","n":63},{"dataset":"CNS","alg":"EGA","n":662},{"dataset":"CNS","alg":"HRO","n":129},{"dataset":"CNS","alg":"GWO","n":28},{"dataset":"CNS","alg":"MSGWO1","n":28},{"dataset":"CNS","alg":"I-GWO","n":25},{"dataset":"CNS","alg":"MSGWO2","n":25},{"dataset":"CNS","alg":"MHRO","n":49},{"dataset":"CNS","alg":"R-IBACO","n":28},{"dataset":"CNS","alg":"C-IBACO","n":27},{"dataset":"CNS","alg":"HO","n":77},{"dataset":"CNS","alg":"IVYA","n":79},{"dataset":"CNS","alg":"HRO-GWO","n":24},
{"dataset":"Leukemia 2","alg":"PSO","n":505},{"dataset":"Leukemia 2","alg":"SCA","n":15},{"dataset":"Leukemia 2","alg":"WOA","n":49},{"dataset":"Leukemia 2","alg":"EGA","n":634},{"dataset":"Leukemia 2","alg":"HRO","n":101},{"dataset":"Leukemia 2","alg":"GWO","n":11},{"dataset":"Leukemia 2","alg":"MSGWO1","n":12},{"dataset":"Leukemia 2","alg":"I-GWO","n":15},{"dataset":"Leukemia 2","alg":"MSGWO2","n":13},{"dataset":"Leukemia 2","alg":"MHRO","n":38},{"dataset":"Leukemia 2","alg":"R-IBACO","n":13},{"dataset":"Leukemia 2","alg":"C-IBACO","n":14},{"dataset":"Leukemia 2","alg":"HO","n":36},{"dataset":"Leukemia 2","alg":"IVYA","n":93},{"dataset":"Leukemia 2","alg":"HRO-GWO","n":11}],
"f":[
{"dataset":"CLL_SUB_111","alg":"PSO","n":926},{"dataset":"CLL_SUB_111","alg":"SCA","n":16},{"dataset":"CLL_SUB_111","alg":"WOA","n":146},{"dataset":"CLL_SUB_111","alg":"EGA","n":1098},{"dataset":"CLL_SUB_111","alg":"HRO","n":476},{"dataset":"CLL_SUB_111","alg":"GWO","n":25},{"dataset":"CLL_SUB_111","alg":"MSGWO1","n":28},{"dataset":"CLL_SUB_111","alg":"I-GWO","n":28},{"dataset":"CLL_SUB_111","alg":"MSGWO2","n":22},{"dataset":"CLL_SUB_111","alg":"MHRO","n":54},{"dataset":"CLL_SUB_111","alg":"R-IBACO","n":20},{"dataset":"CLL_SUB_111","alg":"C-IBACO","n":24},{"dataset":"CLL_SUB_111","alg":"HO","n":58},{"dataset":"CLL_SUB_111","alg":"IVYA","n":359},{"dataset":"CLL_SUB_111","alg":"HRO-GWO","n":26},
{"dataset":"MLL","alg":"PSO","n":1017},{"dataset":"MLL","alg":"SCA","n":8},{"dataset":"MLL","alg":"WOA","n":22},{"dataset":"MLL","alg":"EGA","n":1158},{"dataset":"MLL","alg":"HRO","n":219},{"dataset":"MLL","alg":"GWO","n":7},{"dataset":"MLL","alg":"MSGWO1","n":7},{"dataset":"MLL","alg":"I-GWO","n":7},{"dataset":"MLL","alg":"MSGWO2","n":8},{"dataset":"MLL","alg":"MHRO","n":11},{"dataset":"MLL","alg":"R-IBACO","n":8},{"dataset":"MLL","alg":"C-IBACO","n":7},{"dataset":"MLL","alg":"HO","n":9},{"dataset":"MLL","alg":"IVYA","n":30},{"dataset":"MLL","alg":"HRO-GWO","n":7},
{"dataset":"Lung_cancer","alg":"PSO","n":1020},{"dataset":"Lung_cancer","alg":"SCA","n":130},{"dataset":"Lung_cancer","alg":"WOA","n":256},{"dataset":"Lung_cancer","alg":"EGA","n":1216},{"dataset":"Lung_cancer","alg":"HRO","n":427},{"dataset":"Lung_cancer","alg":"GWO","n":47},{"dataset":"Lung_cancer","alg":"MSGWO1","n":55},{"dataset":"Lung_cancer","alg":"I-GWO","n":44},{"dataset":"Lung_cancer","alg":"MSGWO2","n":53},{"dataset":"Lung_cancer","alg":"MHRO","n":99},{"dataset":"Lung_cancer","alg":"R-IBACO","n":66},{"dataset":"Lung_cancer","alg":"C-IBACO","n":75},{"dataset":"Lung_cancer","alg":"HO","n":155},{"dataset":"Lung_cancer","alg":"IVYA","n":227},{"dataset":"Lung_cancer","alg":"HRO-GWO","n":43},
{"dataset":"Ovarian","alg":"PSO","n":1258},{"dataset":"Ovarian","alg":"SCA","n":15},{"dataset":"Ovarian","alg":"WOA","n":41},{"dataset":"Ovarian","alg":"EGA","n":1475},{"dataset":"Ovarian","alg":"HRO","n":368},{"dataset":"Ovarian","alg":"GWO","n":10},{"dataset":"Ovarian","alg":"MSGWO1","n":15},{"dataset":"Ovarian","alg":"I-GWO","n":9},{"dataset":"Ovarian","alg":"MSGWO2","n":11},{"dataset":"Ovarian","alg":"MHRO","n":17},{"dataset":"Ovarian","alg":"R-IBACO","n":9},{"dataset":"Ovarian","alg":"C-IBACO","n":9},{"dataset":"Ovarian","alg":"HO","n":45},{"dataset":"Ovarian","alg":"IVYA","n":62},{"dataset":"Ovarian","alg":"HRO-GWO","n":7}],
"g":[
{"dataset":"Lymphoma","alg":"PSO","n":124},{"dataset":"Lymphoma","alg":"SCA","n":14},{"dataset":"Lymphoma","alg":"WOA","n":40},{"dataset":"Lymphoma","alg":"EGA","n":186},{"dataset":"Lymphoma","alg":"HRO","n":65},{"dataset":"Lymphoma","alg":"GWO","n":11},{"dataset":"Lymphoma","alg":"MSGWO1","n":11},{"dataset":"Lymphoma","alg":"I-GWO","n":10},{"dataset":"Lymphoma","alg":"MSGWO2","n":11},{"dataset":"Lymphoma","alg":"MHRO","n":28},{"dataset":"Lymphoma","alg":"R-IBACO","n":15},{"dataset":"Lymphoma","alg":"C-IBACO","n":19},{"dataset":"Lymphoma","alg":"HO","n":35},{"dataset":"Lymphoma","alg":"IVYA","n":105},{"dataset":"Lymphoma","alg":"HRO-GWO","n":10},
{"dataset":"GLIOMA","alg":"PSO","n":137},{"dataset":"GLIOMA","alg":"SCA","n":8},{"dataset":"GLIOMA","alg":"WOA","n":24},{"dataset":"GLIOMA","alg":"EGA","n":198},{"dataset":"GLIOMA","alg":"HRO","n":42},{"dataset":"GLIOMA","alg":"GWO","n":12},{"dataset":"GLIOMA","alg":"MSGWO1","n":13},{"dataset":"GLIOMA","alg":"I-GWO","n":12},{"dataset":"GLIOMA","alg":"MSGWO2","n":12},{"dataset":"GLIOMA","alg":"MHRO","n":24},{"dataset":"GLIOMA","alg":"R-IBACO","n":13},{"dataset":"GLIOMA","alg":"C-IBACO","n":19},{"dataset":"GLIOMA","alg":"HO","n":14},{"dataset":"GLIOMA","alg":"IVYA","n":137},{"dataset":"GLIOMA","alg":"HRO-GWO","n":11},
{"dataset":"TOX_171","alg":"PSO","n":269},{"dataset":"TOX_171","alg":"SCA","n":21},{"dataset":"TOX_171","alg":"WOA","n":99},{"dataset":"TOX_171","alg":"EGA","n":288},{"dataset":"TOX_171","alg":"HRO","n":243},{"dataset":"TOX_171","alg":"GWO","n":69},{"dataset":"TOX_171","alg":"MSGWO1","n":80},{"dataset":"TOX_171","alg":"I-GWO","n":57},{"dataset":"TOX_171","alg":"MSGWO2","n":48},{"dataset":"TOX_171","alg":"MHRO","n":225},{"dataset":"TOX_171","alg":"R-IBACO","n":157},{"dataset":"TOX_171","alg":"C-IBACO","n":142},{"dataset":"TOX_171","alg":"HO","n":70},{"dataset":"TOX_171","alg":"IVYA","n":137},{"dataset":"TOX_171","alg":"HRO-GWO","n":71},
{"dataset":"Brain_Tumor_1","alg":"PSO","n":190},{"dataset":"Brain_Tumor_1","alg":"SCA","n":9},{"dataset":"Brain_Tumor_1","alg":"WOA","n":35},{"dataset":"Brain_Tumor_1","alg":"EGA","n":279},{"dataset":"Brain_Tumor_1","alg":"HRO","n":79},{"dataset":"Brain_Tumor_1","alg":"GWO","n":14},{"dataset":"Brain_Tumor_1","alg":"MSGWO1","n":15},{"dataset":"Brain_Tumor_1","alg":"I-GWO","n":14},{"dataset":"Brain_Tumor_1","alg":"MSGWO2","n":12},{"dataset":"Brain_Tumor_1","alg":"MHRO","n":47},{"dataset":"Brain_Tumor_1","alg":"R-IBACO","n":18},{"dataset":"Brain_Tumor_1","alg":"C-IBACO","n":21},{"dataset":"Brain_Tumor_1","alg":"HO","n":19},{"dataset":"Brain_Tumor_1","alg":"IVYA","n":171},{"dataset":"Brain_Tumor_1","alg":"HRO-GWO","n":12}],
"h":[
{"dataset":"Prostate_GE","alg":"PSO","n":194},{"dataset":"Prostate_GE","alg":"SCA","n":7},{"dataset":"Prostate_GE","alg":"WOA","n":32},{"dataset":"Prostate_GE","alg":"EGA","n":290},{"dataset":"Prostate_GE","alg":"HRO","n":101},{"dataset":"Prostate_GE","alg":"GWO","n":9},{"dataset":"Prostate_GE","alg":"MSGWO1","n":8},{"dataset":"Prostate_GE","alg":"I-GWO","n":7},{"dataset":"Prostate_GE","alg":"MSGWO2","n":9},{"dataset":"Prostate_GE","alg":"MHRO","n":18},{"dataset":"Prostate_GE","alg":"R-IBACO","n":12},{"dataset":"Prostate_GE","alg":"C-IBACO","n":12},{"dataset":"Prostate_GE","alg":"HO","n":14},{"dataset":"Prostate_GE","alg":"IVYA","n":174},{"dataset":"Prostate_GE","alg":"HRO-GWO","n":7},
{"dataset":"LFPF_1","alg":"PSO","n":296},{"dataset":"LFPF_1","alg":"SCA","n":32},{"dataset":"LFPF_1","alg":"WOA","n":202},{"dataset":"LFPF_1","alg":"EGA","n":351},{"dataset":"LFPF_1","alg":"HRO","n":282},{"dataset":"LFPF_1","alg":"GWO","n":80},{"dataset":"LFPF_1","alg":"MSGWO1","n":84},{"dataset":"LFPF_1","alg":"I-GWO","n":58},{"dataset":"LFPF_1","alg":"MSGWO2","n":61},{"dataset":"LFPF_1","alg":"MHRO","n":218},{"dataset":"LFPF_1","alg":"R-IBACO","n":91},{"dataset":"LFPF_1","alg":"C-IBACO","n":86},{"dataset":"LFPF_1","alg":"HO","n":140},{"dataset":"LFPF_1","alg":"IVYA","n":202},{"dataset":"LFPF_1","alg":"HRO-GWO","n":60},
{"dataset":"CNS","alg":"PSO","n":253},{"dataset":"CNS","alg":"SCA","n":8},{"dataset":"CNS","alg":"WOA","n":30},{"dataset":"CNS","alg":"EGA","n":343},{"dataset":"CNS","alg":"HRO","n":201},{"dataset":"CNS","alg":"GWO","n":19},{"dataset":"CNS","alg":"MSGWO1","n":28},{"dataset":"CNS","alg":"I-GWO","n":16},{"dataset":"CNS","alg":"MSGWO2","n":14},{"dataset":"CNS","alg":"MHRO","n":84},{"dataset":"CNS","alg":"R-IBACO","n":21},{"dataset":"CNS","alg":"C-IBACO","n":30},{"dataset":"CNS","alg":"HO","n":33},{"dataset":"CNS","alg":"IVYA","n":33},{"dataset":"CNS","alg":"HRO-GWO","n":22},
{"dataset":"Leukemia 2","alg":"PSO","n":214},{"dataset":"Leukemia 2","alg":"SCA","n":6},{"dataset":"Leukemia 2","alg":"WOA","n":32},{"dataset":"Leukemia 2","alg":"EGA","n":310},{"dataset":"Leukemia 2","alg":"HRO","n":40},{"dataset":"Leukemia 2","alg":"GWO","n":7},{"dataset":"Leukemia 2","alg":"MSGWO1","n":7},{"dataset":"Leukemia 2","alg":"I-GWO","n":6},{"dataset":"Leukemia 2","alg":"MSGWO2","n":6},{"dataset":"Leukemia 2","alg":"MHRO","n":16},{"dataset":"Leukemia 2","alg":"R-IBACO","n":12},{"dataset":"Leukemia 2","alg":"C-IBACO","n":14},{"dataset":"Leukemia 2","alg":"HO","n":11},{"dataset":"Leukemia 2","alg":"IVYA","n":44},{"dataset":"Leukemia 2","alg":"HRO-GWO","n":6}]
}
}
